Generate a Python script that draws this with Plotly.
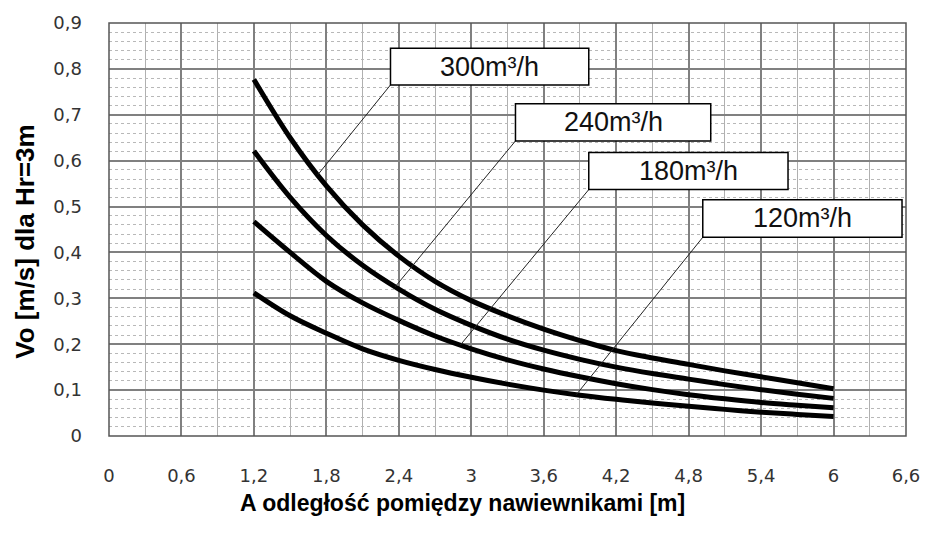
import numpy as np
import plotly.graph_objects as go

# ---- data ----
A = [1.2, 1.5, 1.8, 2.1, 2.4, 2.7, 3.0, 3.3, 3.6, 3.9, 4.2, 4.5, 4.8, 5.1, 5.4, 5.7, 6.0]
v300 = [0.777, 0.650, 0.545, 0.460, 0.392, 0.337, 0.295, 0.262, 0.233, 0.208, 0.186, 0.170, 0.156, 0.142, 0.129, 0.116, 0.103]
v240 = [0.621, 0.520, 0.437, 0.372, 0.320, 0.276, 0.241, 0.211, 0.187, 0.167, 0.150, 0.136, 0.124, 0.112, 0.101, 0.091, 0.082]
v180 = [0.467, 0.400, 0.337, 0.290, 0.252, 0.218, 0.190, 0.166, 0.146, 0.129, 0.114, 0.101, 0.090, 0.081, 0.073, 0.067, 0.0615]
v120 = [0.312, 0.262, 0.224, 0.190, 0.165, 0.145, 0.128, 0.113, 0.100, 0.089, 0.080, 0.072, 0.065, 0.058, 0.052, 0.047, 0.0426]

series_names = ["300m³/h", "240m³/h", "180m³/h", "120m³/h"]
series_vals = [v300, v240, v180, v120]

x_tickvals = [0, 0.6, 1.2, 1.8, 2.4, 3.0, 3.6, 4.2, 4.8, 5.4, 6.0, 6.6]
x_ticktext = ["0", "0,6", "1,2", "1,8", "2,4", "3", "3,6", "4,2", "4,8", "5,4", "6", "6,6"]
y_tickvals = [0, 0.1, 0.2, 0.3, 0.4, 0.5, 0.6, 0.7, 0.8, 0.9]
y_ticktext = ["0", "0,1", "0,2", "0,3", "0,4", "0,5", "0,6", "0,7", "0,8", "0,9"]

x_title = "A odległość pomiędzy nawiewnikami [m]"
y_title = "Vo [m/s] dla Hr=3m"

# label boxes (x0, x1, y0, y1 in data units) and where each leader line meets its curve (A value)
label_boxes = [(2.331, 3.973, 0.765, 0.845),
               (3.366, 4.983, 0.643, 0.724),
               (3.973, 5.623, 0.537, 0.618),
               (4.917, 6.567, 0.433, 0.515)]
leader_A = [1.73, 2.37, 2.91, 3.87]

fig = go.Figure()
for name, vals in zip(series_names, series_vals):
    fig.add_trace(go.Scatter(x=A, y=vals, mode="lines", name=name,
                             line=dict(color="black", width=5, shape="spline", smoothing=1.0),
                             showlegend=False, hoverinfo="skip"))

shapes = []
annotations = []
for name, vals, box, la in zip(series_names, series_vals, label_boxes, leader_A):
    x0, x1, y0, y1 = box
    ly = float(np.interp(la, A, vals))
    shapes.append(dict(type="line", xref="x", yref="y", x0=x0, y0=y0, x1=la, y1=ly,
                       line=dict(color="#222", width=1)))
    shapes.append(dict(type="rect", xref="x", yref="y", x0=x0, x1=x1, y0=y0, y1=y1,
                       fillcolor="white", line=dict(color="black", width=1.5)))
    annotations.append(dict(x=(x0 + x1) / 2, y=(y0 + y1) / 2, xref="x", yref="y",
                            text=name, showarrow=False,
                            font=dict(family="Liberation Sans, Arial", size=27, color="#111")))

# axis titles
annotations.append(dict(x=0.443, y=-0.163, xref="paper", yref="paper", text="<b>" + x_title + "</b>",
                        showarrow=False, xanchor="center", yanchor="middle",
                        font=dict(family="Liberation Sans, Arial", size=23, color="black")))
annotations.append(dict(x=-0.1057, y=0.47, xref="paper", yref="paper", text="<b>" + y_title + "</b>",
                        showarrow=False, xanchor="center", yanchor="middle", textangle=-90,
                        font=dict(family="Liberation Sans, Arial", size=26, color="black")))

# plot border
shapes.append(dict(type="rect", xref="paper", yref="paper", x0=0, x1=1, y0=0, y1=1,
                   line=dict(color="#555", width=1.5), layer="above"))

fig.update_layout(
    width=932, height=534,
    margin=dict(l=109, r=19, t=22, b=98),
    paper_bgcolor="white", plot_bgcolor="white",
    shapes=shapes, annotations=annotations,
    xaxis=dict(range=[0, 6.6], tickvals=x_tickvals, ticktext=x_ticktext,
               showgrid=True, gridcolor="#808080", gridwidth=1.5, zeroline=False,
               ticks="", ticklabelstandoff=27,
               tickfont=dict(family="DejaVu Sans, Arial", size=18, color="#333"),
               minor=dict(dtick=0.3, tick0=0, showgrid=True, gridcolor="#b0b0b0", gridwidth=1)),
    yaxis=dict(range=[0, 0.9], tickvals=y_tickvals, ticktext=y_ticktext,
               showgrid=True, gridcolor="#808080", gridwidth=1.5, zeroline=False,
               ticks="", ticklabelstandoff=26,
               tickfont=dict(family="DejaVu Sans, Arial", size=18, color="#333"),
               minor=dict(dtick=0.02, tick0=0, showgrid=True, gridcolor="#b8b8b8",
                          gridwidth=1, griddash="dot")),
)

fig.write_html("out.html")
